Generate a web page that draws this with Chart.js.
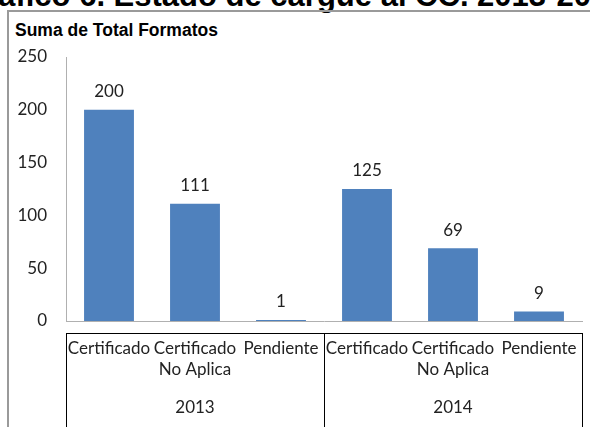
<!DOCTYPE html>
<html>
<head>
<meta charset="utf-8">
<script src="https://cdn.jsdelivr.net/npm/chart.js@4.4.1/dist/chart.umd.min.js"></script>
<style>
    body { margin: 0; background: #fff; overflow: hidden; }
    #wrap { position: relative; width: 590px; height: 427px; overflow: hidden; }
    #caption { position: absolute; left: -38px; top: -20px; font: bold 31px "Liberation Sans", Arial, sans-serif; line-height: 1; white-space: nowrap; color: #000; }
    #frame { position: absolute; left: 7px; top: 10px; width: 620px; height: 440px; border-left: 2px solid #9a9a9a; border-top: 2px solid #9a9a9a; }
    #subtitle { position: absolute; left: 15px; top: 20px; font: bold 17.5px "Liberation Sans", Arial, sans-serif; color: #000; }
    canvas { position: absolute; left: 0; top: 0; }
</style>
</head>
<body>
<div id="wrap">
    <div id="caption">Gráfico 6. Estado de cargue al CC. 2013-2014</div>
    <div id="frame"></div>
    <div id="subtitle">Suma de Total Formatos</div>
    <canvas id="formatosChart" width="590" height="427"></canvas>
</div>
<script>
// datos del grafico
var years = ['2013', '2014'];
var categories = [['Certificado'], ['Certificado', 'No Aplica'], ['Pendiente']];
var values2013 = [200, 111, 1];
var values2014 = [125, 69, 9];
var yTicks = [0, 50, 100, 150, 200, 250];

var labels = [];
years.forEach(function () {
    categories.forEach(function (c) { labels.push(c); });
});
var values = values2013.concat(values2014);

var textColor = '#222';
var chartFont = 'Lato';

// etiquetas de valor sobre cada barra
var valueLabels = {
    id: 'valueLabels',
    afterDatasetsDraw: function (chart) {
        var ctx = chart.ctx;
        var meta = chart.getDatasetMeta(0);
        ctx.save();
        ctx.font = '17px ' + chartFont;
        ctx.fillStyle = textColor;
        ctx.textAlign = 'center';
        ctx.textBaseline = 'middle';
        meta.data.forEach(function (bar, i) {
            ctx.fillText(chart.data.datasets[0].data[i], bar.x, bar.y - 18);
        });
        ctx.restore();
    }
};

// tabla de categorias con los años
var yearTable = {
    id: 'yearTable',
    afterDraw: function (chart) {
        var ctx = chart.ctx;
        var x = chart.scales.x;
        var area = chart.chartArea;
        var half = (x.getPixelForValue(1) - x.getPixelForValue(0)) / 2;
        var top = area.bottom + 12;
        var n = categories.length;
        ctx.save();
        ctx.strokeStyle = '#000';
        ctx.lineWidth = 1;
        ctx.beginPath();
        ctx.moveTo(x.getPixelForValue(0) - half, top + 0.5);
        ctx.lineTo(x.getPixelForValue(labels.length - 1) + half, top + 0.5);
        for (var g = 0; g <= years.length; g++) {
            var px = g < years.length ? x.getPixelForValue(g * n) - half : x.getPixelForValue(labels.length - 1) + half;
            px = Math.round(px) + 0.5;
            ctx.moveTo(px, top);
            ctx.lineTo(px, chart.height);
        }
        ctx.stroke();
        ctx.font = '17px ' + chartFont;
        ctx.fillStyle = textColor;
        ctx.textAlign = 'center';
        ctx.textBaseline = 'middle';
        years.forEach(function (yr, g) {
            var cx = (x.getPixelForValue(g * n) + x.getPixelForValue(g * n + n - 1)) / 2;
            ctx.fillText(yr, cx, area.bottom + 87);
        });
        ctx.restore();
    }
};

var ctx = document.getElementById('formatosChart').getContext('2d');
var formatosChart = new Chart(ctx, {
    type: 'bar',
    data: {
        labels: labels,
        datasets: [{
            label: 'Suma de Total Formatos',
            data: values,
            backgroundColor: '#4F81BD',
            borderWidth: 0,
            barPercentage: 0.58,
            categoryPercentage: 1
        }]
    },
    options: {
        responsive: false,
        animation: false,
        layout: {
            padding: { left: 10, right: 8, top: 57, bottom: 0 }
        },
        scales: {
            y: {
                min: 0,
                max: 250,
                afterBuildTicks: function (scale) {
                    scale.ticks = yTicks.map(function (v) { return { value: v }; });
                },
                afterFit: function (scale) { scale.width = 56; },
                grid: { display: false },
                border: { display: true, color: '#b0b0b0', width: 1 },
                ticks: {
                    padding: 11,
                    color: textColor,
                    font: { family: chartFont, size: 17 }
                }
            },
            x: {
                afterFit: function (scale) { scale.height = 106; },
                grid: { display: false },
                border: { display: true, color: '#b0b0b0', width: 1 },
                ticks: {
                    autoSkip: false,
                    maxRotation: 0,
                    minRotation: 0,
                    padding: 9,
                    color: textColor,
                    font: { family: chartFont, size: 17, lineHeight: 1.22 }
                }
            }
        },
        plugins: {
            legend: { display: false },
            tooltip: { enabled: false }
        }
    },
    plugins: [valueLabels, yearTable]
});
</script>
</body>
</html>
